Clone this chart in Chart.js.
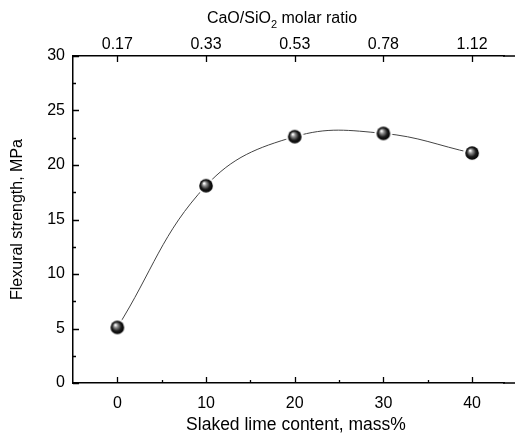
<!DOCTYPE html>
<html>
<head>
<meta charset="utf-8">
<script src="https://cdn.jsdelivr.net/npm/chart.js@4.4.1/dist/chart.umd.min.js"></script>
<style>
  html, body { margin: 0; padding: 0; background: #fff; }
</style>
</head>
<body>
<canvas id="chart" width="515" height="437"></canvas>
<script>
// data
const limeContent = [0, 10, 20, 30, 40];
const flexStrength = [5.1, 18.1, 22.6, 22.9, 21.1];
const molarRatio = ['0.17', '0.33', '0.53', '0.78', '1.12'];
const yTicks = [0, 5, 10, 15, 20, 25, 30];
const xMinor = [5, 15, 25, 35];
const yMinor = [2.5, 7.5, 12.5, 17.5, 22.5, 27.5];

const FONT = 'Liberation Sans, Arial, sans-serif';

// shaded sphere marker with a small white halo
function makeBall() {
  const c = document.createElement('canvas');
  c.width = c.height = 20;
  const g = c.getContext('2d');
  g.fillStyle = '#fff';
  g.beginPath(); g.arc(10, 10, 9, 0, Math.PI * 2); g.fill();
  const grad = g.createRadialGradient(8, 7.5, 0.5, 10, 10, 6.8);
  grad.addColorStop(0, '#ffffff');
  grad.addColorStop(0.25, '#909090');
  grad.addColorStop(0.65, '#1a1a1a');
  grad.addColorStop(1, '#000');
  g.fillStyle = grad;
  g.beginPath(); g.arc(10, 10, 6.8, 0, Math.PI * 2); g.fill();
  return c;
}

const noSidePad = s => { s.paddingLeft = 0; s.paddingRight = 0; };

// inward tick marks, axis lines running to the edge, axis titles
const frame = {
  id: 'frame',
  afterDraw(chart) {
    const { ctx, chartArea: a, scales, width } = chart;
    const x = scales.x, y = scales.y;
    ctx.save();
    ctx.strokeStyle = '#000';
    ctx.lineWidth = 1.5;
    ctx.beginPath();
    ctx.moveTo(a.right - 1, a.bottom); ctx.lineTo(width, a.bottom);
    ctx.moveTo(a.right - 1, a.top); ctx.lineTo(width, a.top);
    ctx.stroke();

    ctx.lineWidth = 1.3;
    ctx.beginPath();
    limeContent.forEach(v => {
      const px = Math.round(x.getPixelForValue(v)) + 0.5;
      ctx.moveTo(px, a.bottom); ctx.lineTo(px, a.bottom - 6);
      ctx.moveTo(px, a.top); ctx.lineTo(px, a.top + 6);
    });
    xMinor.forEach(v => {
      const px = Math.round(x.getPixelForValue(v)) + 0.5;
      ctx.moveTo(px, a.bottom); ctx.lineTo(px, a.bottom - 3);
    });
    yTicks.forEach(v => {
      const py = Math.round(y.getPixelForValue(v)) + 0.5;
      ctx.moveTo(a.left, py); ctx.lineTo(a.left + 6, py);
    });
    yMinor.forEach(v => {
      const py = Math.round(y.getPixelForValue(v)) + 0.5;
      ctx.moveTo(a.left, py); ctx.lineTo(a.left + 3, py);
    });
    ctx.stroke();

    ctx.fillStyle = '#000';
    ctx.textBaseline = 'middle';

    // bottom title
    ctx.textAlign = 'center';
    ctx.font = '17.5px ' + FONT;
    ctx.fillText('Slaked lime content, mass%', 296, 425);

    // CaO/SiO2 molar ratio
    ctx.textAlign = 'left';
    const p1 = 'CaO/SiO', sub = '2', p2 = ' molar ratio';
    ctx.font = '16px ' + FONT;
    const w1 = ctx.measureText(p1).width, w2 = ctx.measureText(p2).width;
    ctx.font = '11px ' + FONT;
    const ws = ctx.measureText(sub).width;
    const tx = 282 - (w1 + ws + w2) / 2;
    const ty = 19;
    ctx.font = '16px ' + FONT;
    ctx.fillText(p1, tx, ty);
    ctx.font = '11px ' + FONT;
    ctx.fillText(sub, tx + w1, ty + 6);
    ctx.font = '16px ' + FONT;
    ctx.fillText(p2, tx + w1 + ws, ty);
    ctx.restore();
  }
};

const points = limeContent.map((v, i) => ({ x: v, y: flexStrength[i] }));

new Chart(document.getElementById('chart'), {
  type: 'line',
  data: {
    datasets: [{
      data: points,
      borderColor: '#444',
      borderWidth: 1,
      tension: 0.4,
      pointStyle: makeBall(),
      pointRadius: 10,
      fill: false
    }]
  },
  options: {
    responsive: false,
    devicePixelRatio: 1,
    animation: false,
    layout: { padding: 0 },
    plugins: { legend: { display: false }, tooltip: { enabled: false } },
    scales: {
      x: {
        type: 'linear',
        position: 'bottom',
        min: -5,
        max: 43.6,
        afterBuildTicks: s => { s.ticks = limeContent.map(v => ({ value: v })); },
        afterFit: s => { s.height = 54; noSidePad(s); },
        grid: { display: false },
        border: { display: true, color: '#000', width: 1.5 },
        ticks: { color: '#000', font: { family: FONT, size: 16 }, padding: 3, maxRotation: 0 }
      },
      x2: {
        type: 'linear',
        position: 'top',
        min: -5,
        max: 43.6,
        afterBuildTicks: s => { s.ticks = limeContent.map(v => ({ value: v })); },
        afterFit: s => { s.height = 56; noSidePad(s); },
        grid: { display: false },
        border: { display: true, color: '#000', width: 1.5 },
        ticks: { color: '#000', font: { family: FONT, size: 16 }, padding: -6, maxRotation: 0,
                 callback: v => molarRatio[limeContent.indexOf(v)] }
      },
      y: {
        type: 'linear',
        min: 0,
        max: 30,
        afterBuildTicks: s => { s.ticks = yTicks.map(v => ({ value: v })); },
        afterFit: s => { s.width = 73; },
        grid: { display: false },
        border: { display: true, color: '#000', width: 1.5 },
        ticks: { color: '#000', font: { family: FONT, size: 16 }, padding: 0 },
        title: { display: true, text: 'Flexural strength, MPa', color: '#000',
                 font: { family: FONT, size: 16 }, padding: { top: 8, bottom: 0 } }
      }
    }
  },
  plugins: [frame]
});
</script>
</body>
</html>
